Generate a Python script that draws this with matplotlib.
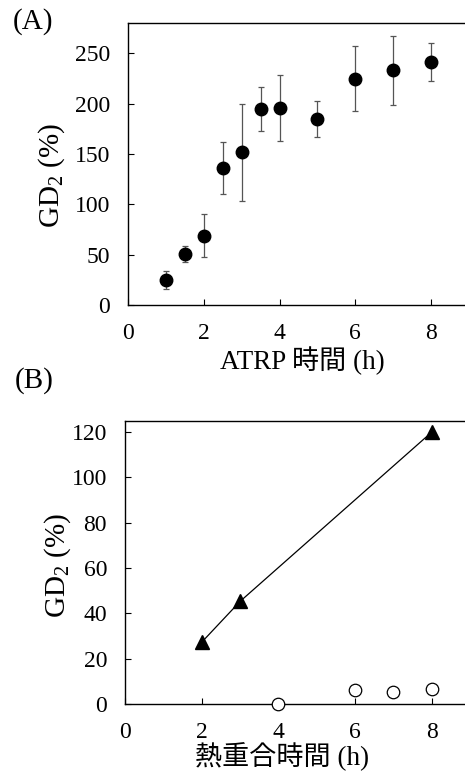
import matplotlib
matplotlib.use("Agg")
import matplotlib.pyplot as plt

plt.rcParams['font.family'] = ['Liberation Serif', 'Noto Sans CJK JP']
plt.rcParams['mathtext.fontset'] = 'custom'
plt.rcParams['mathtext.rm'] = 'Liberation Serif'
plt.rcParams['mathtext.it'] = 'Liberation Serif'

# (A) GD2 vs ATRP time
atrp_time = [1, 1.5, 2, 2.5, 3, 3.5, 4, 5, 6, 7, 8]
atrp_gd2 = [24.5, 51, 69, 136, 151.5, 195, 195.5, 185, 225, 233, 241.5]
atrp_err = [9, 8, 21, 26, 48, 22, 32.5, 18, 32, 34, 19]

# (B) GD2 vs thermal polymerization time
tri_time = [2, 3, 8]
tri_gd2 = [27.3, 45.3, 120]
circ_time = [4, 6, 7, 8]
circ_gd2 = [0, 6.2, 5.2, 6.6]

fig = plt.figure(figsize=(4.65, 7.72), dpi=100)

def style(ax):
    ax.tick_params(direction='in', length=4, width=0.8, labelsize=17, pad=13,
                   top=False, right=False)
    for s in ax.spines.values():
        s.set_linewidth(1.0)

axA = fig.add_axes([0.2753, 0.605, 0.733, 0.365])
axA.errorbar(atrp_time, atrp_gd2, yerr=atrp_err, fmt='o', color='black',
             markersize=9, ecolor='#555555', elinewidth=0.9, capsize=2.5,
             capthick=0.9, clip_on=False, zorder=3)
axA.set_xlim(0, 9)
axA.set_ylim(0, 280)
axA.set_xticks([0, 2, 4, 6, 8])
axA.set_yticks([0, 50, 100, 150, 200, 250])
axA.set_xlabel('ATRP 時間 (h)', fontsize=19.5)
axA.set_ylabel('GD$_2$ (%)', fontsize=21)
axA.xaxis.label.set_va('center')
axA.xaxis.set_label_coords(0.513, -0.20)
axA.yaxis.label.set_va('center')
axA.yaxis.set_label_coords(-0.225, 0.46)
style(axA)
fig.text(0.028, 0.99, '(A)', fontsize=21, va='top', ha='left')

axB = fig.add_axes([0.269, 0.088, 0.742, 0.367])
axB.plot(tri_time, tri_gd2, '-', color='black', linewidth=0.9,
         marker='^', markersize=9.5, clip_on=False, zorder=3)
axB.plot(circ_time, circ_gd2, 'o', markerfacecolor='white',
         markeredgecolor='black', markeredgewidth=0.9, markersize=9,
         clip_on=False, zorder=3)
axB.set_xlim(0, 9)
axB.set_ylim(0, 125)
axB.set_xticks([0, 2, 4, 6, 8])
axB.set_yticks([0, 20, 40, 60, 80, 100, 120])
axB.set_xlabel('熱重合時間 (h)', fontsize=19.5)
axB.set_ylabel('GD$_2$ (%)', fontsize=21)
axB.xaxis.label.set_va('center')
axB.xaxis.set_label_coords(0.456, -0.185)
axB.yaxis.label.set_va('center')
axB.yaxis.set_label_coords(-0.196, 0.49)
style(axB)
fig.text(0.032, 0.524, '(B)', fontsize=21, va='top', ha='left')

fig.savefig('out.png', dpi=100)
